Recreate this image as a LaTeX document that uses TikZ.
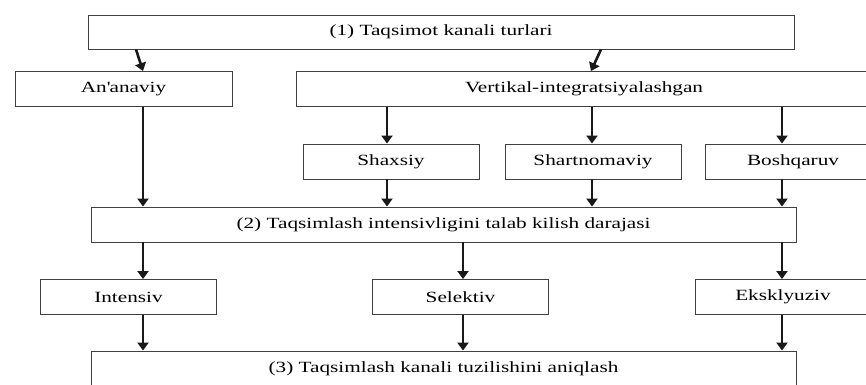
\documentclass[tikz,border=0pt]{standalone}
\usepackage{fontspec}
\setmainfont{Liberation Serif}[FakeStretch=1.36]
\usetikzlibrary{arrows.meta}
\tikzset{box/.style={rectangle, draw=black!75, line width=0.9pt, minimum height=35pt, inner sep=0pt, text centered, font=\fontsize{15.6}{18}\selectfont}}
\tikzset{small/.style={box, minimum width=176pt}}
\tikzset{arrow/.style={line width=2.6pt, draw=black!90, -{Triangle[length=8pt,width=11pt]}}}
\begin{document}
\begin{tikzpicture}[x=1pt, y=-1pt]
   \useasboundingbox (0,0) rectangle (866,384);
   \clip (0,0) rectangle (866,384);
   \node (kanal) [box, minimum width=706pt, minimum height=34pt] at (441,32) {(1) Taqsimot kanali turlari};
   \node (ananaviy) [box, minimum width=217pt] at (123.5,89) {An\textquotesingle anaviy};
   \node (vertikal) [box, minimum width=576pt] at (584,89) {Vertikal-integratsiyalashgan};
   \node (shaxsiy) [small] at (391,161.5) {Shaxsiy};
   \node (shartnoma) [small] at (593,161.5) {Shartnomaviy};
   \node (boshqaruv) [small] at (793,161.5) {Boshqaruv};
   \node (daraja) [box, minimum width=705pt] at (443.5,224.5) {(2) Taqsimlash intensivligini talab kilish darajasi};
   \node (intensiv) [small] at (128.5,297) {Intensiv};
   \node (selektiv) [small] at (460.5,297) {Selektiv};
   \node (eksklyuziv) [small] at (783,297) {Eksklyuziv};
   \node (tuzilish) [box, minimum width=705pt] at (443.5,368.5) {(3) Taqsimlash kanali tuzilishini aniqlash};
   % slanted arrows from the top box
   \draw [arrow] ([xshift=-305pt]kanal.south) -- ([xshift=19.5pt]ananaviy.north);
   \draw [arrow] ([xshift=160pt]kanal.south) -- ([xshift=7pt]vertikal.north);
   % straight arrows
   \foreach \a/\b/\x in {vertikal/shaxsiy/387, vertikal/shartnoma/592, vertikal/boshqaruv/782,
      ananaviy/daraja/143, shaxsiy/daraja/387, shartnoma/daraja/592, boshqaruv/daraja/782,
      daraja/intensiv/143, daraja/selektiv/463, daraja/eksklyuziv/782,
      intensiv/tuzilish/143, selektiv/tuzilish/463, eksklyuziv/tuzilish/782} {
      \path (\x,0) coordinate (e);
      \draw [arrow] (e |- \a.south) -- (e |- \b.north);
   }
\end{tikzpicture}
\end{document}
